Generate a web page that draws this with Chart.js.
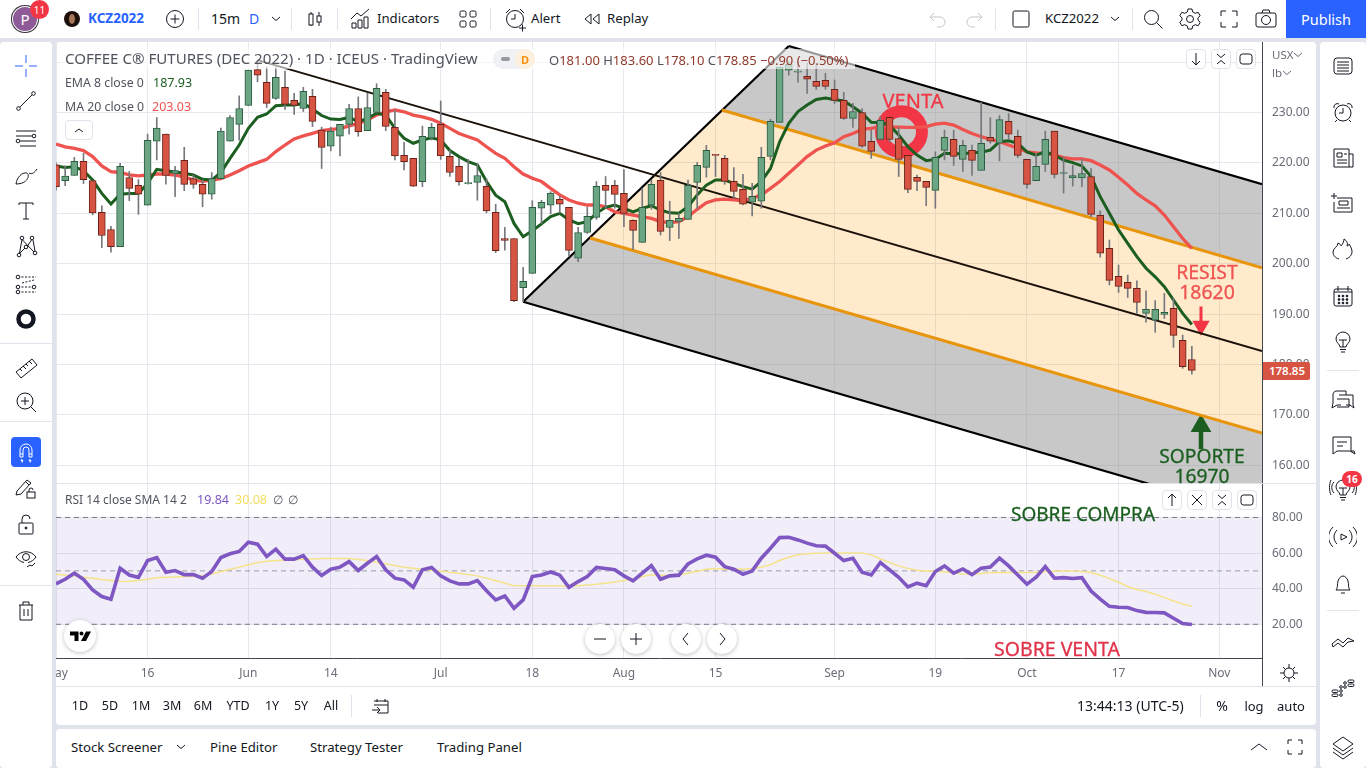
<!DOCTYPE html>
<html>
<head>
<meta charset="utf-8">
<title>KCZ2022</title>
<script src="https://cdn.jsdelivr.net/npm/chart.js@4/dist/chart.umd.min.js"></script>
<style>
  html, body { margin: 0; padding: 0; width: 1366px; height: 768px; overflow: hidden; background: #e0e3eb; font-family: "Noto Sans", sans-serif; color: #131722; }
  .panel { position: absolute; background: #fff; border-radius: 4px; }
  canvas { position: absolute; left: 56px; display: block; }
  .t { position: absolute; white-space: nowrap; transform: translateY(-50%); line-height: 1; }
  .c { transform: translate(-50%, -50%); }
  .ln { position: absolute; background: #e0e3eb; }
  svg.i { position: absolute; fill: none; stroke: currentColor; stroke-width: 1; }
  .btn { position: absolute; box-sizing: border-box; border: 1px solid #e0e3eb; border-radius: 4px; background: rgba(255,255,255,.9); }
  .round { position: absolute; width: 30px; height: 30px; border-radius: 50%; background: #fff; box-shadow: 0 1px 4px rgba(0,0,0,.25); }
</style>
</head>
<body>
<div class="panel" style="left:0;top:0;width:1366px;height:38px;border-radius:0"></div>
<div class="panel" style="left:0;top:42px;width:52px;height:726px"></div>
<div class="panel" style="left:56px;top:42px;width:1260px;height:683px"></div>
<div class="panel" style="left:56px;top:729px;width:1260px;height:39px"></div>
<div class="panel" style="left:1320px;top:42px;width:46px;height:726px"></div>
<canvas id="priceChart" width="1260" height="442" style="top:42px"></canvas>
<canvas id="rsiChart" width="1260" height="202" style="top:484px"></canvas>
<div id="ui"></div>
<script>
// last 125 daily bars of KCZ2022
const opens = [219.6,216.5,217.5,220.3,216.5,210.2,206.8,203.4,217.1,215.55,211.6,224.3,225.7,217.9,220.5,216.9,215.75,213.8,216.9,224.3,227.65,231.4,238.5,236.0,232.8,235.0,232.4,230.8,233.2,226.5,223.3,225.3,227.65,
  230.8,226.4,230.0,234.0,227.05,221.5,220.9,216.3,224.9,227.65,221.3,219.3,215.9,216.15,215.35,210.2,205.0,205.0,195.25,198.1,211.0,211.6,212.8,211.2,201.1,206.2,209.2,215.55,215.55,213.95,208.6,204.25,
  211.6,216.55,207.2,208.4,208.8,216.15,219.1,221.7,220.9,216.35,214.75,212.2,212.4,221.3,228.05,238.4,238.0,237.2,236.2,236.4,234.6,232.4,228.85,230.0,224.3,224.65,229.05,224.85,221.5,217.15,216.35,214.55,
  222.5,224.7,220.7,222.5,218.5,225.1,223.9,228.25,225.3,220.7,216.5,219.7,226.3,217.9,217.0,217.0,217.3,209.6,203.05,197.5,196.3,195.1,190.15,188.8,189.95,191.15,184.8,181.0];
const highs = [220.0,219.4,221.1,221.9,216.5,211.5,207.4,219.9,218.3,216.7,225.7,229.0,225.7,219.3,223.1,217.6,216.6,218.1,226.9,229.4,233.3,238.4,240.4,239.0,239.0,238.2,233.8,235.0,234.6,227.1,227.1,227.65,231.6,
  233.1,233.8,235.7,234.6,230.5,224.1,220.9,227.3,227.85,232.3,222.6,220.9,220.7,219.9,216.9,211.8,207.2,205.0,199.3,212.5,212.6,214.3,213.4,211.2,207.2,211.2,216.3,217.3,216.55,218.7,208.7,215.0,
  216.6,218.1,212.4,210.0,216.6,220.1,223.5,221.7,221.5,219.1,217.75,215.95,223.1,228.65,239.0,240.15,240.15,239.75,239.75,237.8,236.45,234.0,231.8,230.8,226.5,229.2,229.05,227.05,221.5,217.6,216.35,222.2,
  226.5,226.5,224.5,223.55,232.0,229.0,229.4,229.8,226.5,220.7,221.9,226.3,226.3,221.2,219.5,220.7,218.9,210.5,204.7,199.75,197.75,196.6,194.6,192.7,194.1,193.15,185.85,183.6];
const lows = [214.6,215.5,217.5,215.9,209.7,203.2,202.3,203.4,212.5,209.8,211.6,220.6,215.8,213.3,214.5,214.95,211.3,212.8,216.9,224.3,224.5,231.4,236.1,231.0,232.6,230.6,229.6,230.2,227.2,218.9,222.4,221.4,225.7,
  225.3,226.4,230.0,226.4,220.6,218.6,215.3,215.3,224.55,220.7,217.3,215.6,215.8,212.6,210.1,202.2,202.7,192.45,192.45,198.1,208.0,209.9,210.1,201.5,200.4,206.0,208.8,211.0,211.0,207.35,202.85,204.25,
  210.8,205.7,204.6,205.0,208.8,211.0,217.15,217.3,215.75,213.0,211.65,209.5,211.0,220.6,228.05,237.4,236.0,233.8,234.6,234.6,231.8,228.65,227.05,223.1,220.9,224.65,224.2,217.3,214.1,214.5,211.5,211.0,
  220.6,219.5,218.3,217.5,218.5,223.9,220.4,224.7,221.1,215.0,216.5,218.3,217.0,214.0,215.4,215.3,209.3,201.3,195.8,194.3,193.3,190.15,188.4,186.4,189.15,183.4,179.25,178.1];
const closes = [215.3,217.4,220.3,216.7,210.1,205.6,203.4,219.3,214.95,213.8,224.5,226.9,217.5,218.5,215.75,215.75,213.8,216.9,226.3,229.0,230.8,238.4,237.4,231.8,237.0,231.6,231.4,234.2,228.25,223.1,226.3,227.65,230.8,
  226.2,231.0,234.8,227.25,221.4,220.25,215.4,225.3,227.05,221.4,218.1,216.3,216.1,217.5,210.5,202.6,204.6,192.65,196.5,211.2,212.2,214.0,211.8,202.65,206.2,209.4,215.35,214.55,213.75,210.0,206.6,211.2,
  215.75,206.4,208.6,209.0,215.55,219.5,222.5,221.5,216.35,214.35,211.8,213.35,221.1,228.25,239.0,239.55,238.2,236.6,235.2,235.2,232.4,228.85,230.2,223.3,222.3,228.45,224.65,220.7,214.75,216.35,215.15,221.1,
  225.1,221.3,223.5,220.5,223.9,224.3,228.6,225.7,221.5,215.75,219.3,224.7,217.7,218.1,217.5,217.9,209.8,202.1,196.7,195.5,195.1,192.3,190.95,190.95,190.35,185.8,179.6,178.85];
const ema8 = [219.4,219.1,219.25,218.45,216.6,213.95,211.85,213.8,213.95,213.95,215.95,218.7,218.45,218.2,217.95,217.6,216.75,216.6,218.1,220.9,223.55,226.85,229.05,229.7,231.35,231.5,231.5,231.8,230.7,229.4,228.7,228.6,229.05,
  228.2,228.85,229.85,229.5,226.85,224.9,223.9,224.55,225.0,224.55,222.45,221.25,220.25,219.6,216.3,213.6,212.3,208.0,205.35,206.55,207.9,209.35,210.0,208.7,207.95,208.35,210.0,211.2,211.65,211.0,210.3,211.0,
  211.5,210.65,210.1,210.0,211.3,213.65,215.6,216.6,216.6,215.95,215.3,214.8,216.3,218.9,224.2,227.85,230.2,231.5,232.6,232.9,232.6,232.3,231.15,229.85,228.05,228.0,227.5,225.55,223.2,221.55,220.45,220.7,
  221.9,221.8,221.8,222.0,222.1,222.55,224.2,224.4,223.9,222.2,221.55,222.2,221.55,220.55,220.05,219.4,217.3,213.3,210.0,206.7,204.05,201.4,199.1,197.4,195.45,192.8,190.15,187.93];
const ma20 = [223.75,223.2,222.9,222.45,221.25,219.4,218.25,218.1,217.65,217.45,217.6,217.8,217.8,217.6,217.25,216.6,216.35,216.6,216.9,217.6,218.45,219.4,220.05,220.7,222.25,223.55,224.75,225.35,225.85,226.4,226.65,226.8,227.35,
  227.85,228.5,229.5,230.15,230.5,230.15,229.5,229.15,228.65,227.85,226.85,225.85,225.2,224.55,223.2,221.9,220.9,219.25,217.8,216.95,216.3,214.95,213.65,212.65,212.0,211.65,211.65,211.3,210.3,210.0,209.65,209.3,
  209.0,208.35,208.15,208.35,209.35,210.8,212.1,212.65,212.8,212.65,212.5,213.0,213.65,214.95,216.3,217.95,219.6,221.25,222.55,223.35,224.0,225.2,225.85,226.65,226.85,227.2,227.1,227.1,227.05,227.05,227.2,227.7,
  227.9,227.5,226.65,225.85,225.2,224.7,224.2,223.55,222.9,222.2,222.0,221.9,221.55,221.05,220.8,220.8,220.45,219.6,218.6,217.15,215.6,213.95,212.65,211.5,209.65,207.35,205.0,203.03];
const rsi14 = [42.7,45.3,48.7,45.3,39.3,35.6,34.1,51.5,47.7,46.4,55.8,57.5,49.2,50.2,47.9,47.9,45.9,49.6,57.5,59.6,60.9,66.1,65.0,58.1,62.2,56.6,56.6,58.6,52.1,47.4,50.9,52.1,55.2,
  50.2,54.3,58.1,50.6,45.9,44.9,40.8,50.6,51.9,47.2,44.4,42.7,42.7,44.6,38.9,33.7,35.9,29.0,33.7,46.8,47.7,49.4,47.6,40.8,44.0,46.8,51.9,51.3,50.6,47.2,44.4,48.7,
  53.0,45.3,47.2,47.6,53.9,56.7,58.8,57.7,52.4,50.9,48.1,50.0,57.1,62.7,68.7,68.9,67.4,65.6,64.1,63.9,59.9,55.8,57.1,49.2,47.7,54.7,50.6,46.4,41.0,43.1,41.7,49.6,
  52.8,48.7,51.1,47.9,51.5,52.2,57.1,52.8,47.7,42.5,46.4,52.4,45.9,46.2,45.7,46.2,38.7,34.1,30.1,29.6,29.4,27.7,26.7,26.6,26.4,23.4,20.4,19.84];
const rsiSma = [48.1,47.6,47.2,46.4,45.9,45.1,44.6,44.2,44.0,44.6,45.3,46.1,46.4,46.6,46.8,47.0,47.2,48.3,49.6,50.9,52.1,53.4,54.7,55.4,55.8,56.0,56.2,56.6,56.7,56.9,56.9,56.9,56.9,
  56.4,55.8,54.9,53.9,53.0,52.1,51.5,50.9,50.4,50.0,49.2,48.7,47.9,47.2,45.9,44.6,43.1,41.7,41.6,41.7,41.7,41.7,41.6,41.2,41.6,42.1,42.5,43.1,43.8,44.6,45.5,46.8,
  47.8,47.4,47.6,47.7,48.7,49.8,50.9,51.3,50.9,51.1,50.9,51.3,52.1,53.6,55.8,57.7,59.0,59.6,59.9,60.1,60.1,60.1,60.1,60.1,59.0,56.7,54.7,52.8,51.3,50.4,50.0,50.0,
  49.4,48.9,48.3,48.1,48.5,49.1,49.1,49.1,49.1,49.1,49.2,49.6,49.8,50.0,50.0,49.6,49.1,47.6,45.7,43.6,41.2,39.5,38.4,36.9,35.0,33.1,31.4,30.08];

const xTickIdx = [0,10,21,30,42,52,62,72,85,96,106,116,127];
const xTickLabels = ['May','16','Jun','14','Jul','18','Aug','15','Sep','19','Oct','17','Nov'];
const xEnd = 131.66;

// pitchfork drawing, [bar, price]
const forkHandle = [[51,192.45],[80,243.2]];
const forkMedian = [[22,240.4],[xEnd,182.7]];
const forkUpper = [[80,243.2],[xEnd,215.8]];
const forkLower = [[51,192.45],[xEnd,149.8]];
const forkInnerUp = [[72.7,230.5],[xEnd,199.2]];
const forkInnerDown = [[58.3,205.1],[xEnd,166.4]];
const ventaRing = [[92.3,226.2]];
const resistArrow = [[125,191.5],[125,187.7]];
const soporteArrow = [[125,163.2],[125,167.8]];
const rsiLevels = [80,50,20];

const gridColor = '#e6e8ee';
const upCol = '#6ba583', downCol = '#d75442';
const isUp = closes.map((c, i) => c >= opens[i]);
const pts = arr => arr.map(p => ({ x: p[0], y: p[1] }));
const series = arr => arr.map((v, i) => ({ x: i, y: v }));

function xAxis(showLabels) {
  return {
    type: 'linear', min: 0, max: xEnd, offset: false,
    grid: { color: gridColor, offset: false, drawTicks: false },
    border: showLabels ? { color: '#434651', width: 1 } : { display: false },
    ticks: {
      display: showLabels, autoSkip: false, maxRotation: 0, padding: 8,
      color: '#6a6d78', font: { size: 12, family: 'Noto Sans' },
      callback: (v, i) => xTickLabels[i]
    },
    afterBuildTicks: s => { s.ticks = xTickIdx.map(v => ({ value: v })); },
    afterFit: s => { s.height = showLabels ? 28 : 0; s.paddingLeft = 0; s.paddingRight = 0; }
  };
}

function yAxis(min, max, step, label) {
  return {
    position: 'right', min: min, max: max,
    grid: { color: gridColor, drawTicks: false },
    border: { color: '#434651', width: 1 },
    ticks: {
      stepSize: step, includeBounds: false, padding: 10,
      color: '#6a6d78', font: { size: 12, family: 'Noto Sans' }, callback: label
    },
    afterFit: s => { s.width = 54; s.paddingTop = 0; s.paddingBottom = 0; }
  };
}

const forkFills = {
  id: 'forkFills',
  beforeDatasetsDraw(chart) {
    const { ctx, chartArea: a, scales: { x, y } } = chart;
    const poly = (list, col) => {
      ctx.beginPath();
      list.forEach((p, i) => ctx[i ? 'lineTo' : 'moveTo'](x.getPixelForValue(p[0]), y.getPixelForValue(p[1])));
      ctx.closePath();
      ctx.fillStyle = col;
      ctx.fill();
    };
    ctx.save();
    ctx.beginPath();
    ctx.rect(a.left, a.top, a.right - a.left, a.bottom - a.top);
    ctx.clip();
    poly([forkInnerUp[0], forkUpper[0], forkUpper[1], forkInnerUp[1]], 'rgba(128,128,128,.43)');
    poly([forkLower[0], forkInnerDown[0], forkInnerDown[1], forkLower[1]], 'rgba(128,128,128,.43)');
    poly([forkInnerUp[0], forkInnerUp[1], forkInnerDown[1], forkInnerDown[0]], 'rgba(255,152,0,.2)');
    ctx.restore();
  }
};

function line(data, color, width, order, extra) {
  return Object.assign({ type: 'line', data: data, borderColor: color, borderWidth: width, pointRadius: 0, tension: 0, order: order }, extra || {});
}

new Chart(document.getElementById('priceChart'), {
  type: 'bar',
  plugins: [forkFills],
  data: {
    datasets: [
      { data: opens.map((o, i) => ({ x: i, y: [o, closes[i]] })), barThickness: 7, grouped: false, borderWidth: 1, borderSkipped: false,
        backgroundColor: isUp.map(u => u ? upCol : downCol), borderColor: isUp.map(u => u ? '#2a5c40' : '#6a2218'), order: 0 },
      { data: lows.map((l, i) => ({ x: i, y: [l, highs[i]] })), barThickness: 1, grouped: false, backgroundColor: '#77787d', order: 1 },
      line(series(ema8), '#1b5e20', 3, 2),
      line(series(ma20), '#ef5350', 3.3, 3),
      line(pts(forkMedian), '#1a1208', 2, 4),
      line(pts(forkInnerUp), '#e8950c', 3, 5),
      line(pts(forkInnerDown), '#e8950c', 3, 5),
      line(pts(forkUpper), '#000', 2.2, 6),
      line(pts(forkLower), '#000', 2.2, 6),
      line(pts(forkHandle), '#000', 2.2, 6),
      line(pts(ventaRing), '#f23645', 0, 7, { showLine: false, pointRadius: 20.5, pointBorderWidth: 12, pointBorderColor: '#f23645', pointBackgroundColor: 'transparent' }),
      line(pts(resistArrow), '#f23645', 3, 7, { pointStyle: 'triangle', pointRadius: [0, 7], pointRotation: 180, pointBackgroundColor: '#f23645', pointBorderColor: '#f23645' }),
      line(pts(soporteArrow), '#1b5e20', 4.5, 7, { pointStyle: 'triangle', pointRadius: [0, 7.5], pointBackgroundColor: '#1b5e20', pointBorderColor: '#1b5e20' })
    ]
  },
  options: {
    responsive: false, animation: false, devicePixelRatio: 1,
    layout: { padding: 0, autoPadding: false },
    plugins: { legend: { display: false }, tooltip: { enabled: false } },
    scales: {
      x: xAxis(false),
      y: yAxis(156.3, 243.99, 10, v => (v >= 240 ? '' : v.toFixed(2)))
    }
  }
});

new Chart(document.getElementById('rsiChart'), {
  type: 'line',
  data: {
    datasets: [
      line(series(rsi14), '#7e57c2', 3.6, 0),
      line(series(rsiSma), '#f5e38c', 1.5, 1),
      line([{ x: 0, y: rsiLevels[1] }, { x: xEnd, y: rsiLevels[1] }], '#9a9ca6', 1, 2, { borderDash: [5, 4] }),
      line([{ x: 0, y: rsiLevels[0] }, { x: xEnd, y: rsiLevels[0] }], '#787b86', 1, 3, { borderDash: [5, 4], fill: '+1', backgroundColor: 'rgba(126,87,194,.1)' }),
      line([{ x: 0, y: rsiLevels[2] }, { x: xEnd, y: rsiLevels[2] }], '#787b86', 1, 3, { borderDash: [5, 4] })
    ]
  },
  options: {
    responsive: false, animation: false, devicePixelRatio: 1,
    layout: { padding: 0, autoPadding: false },
    plugins: { legend: { display: false }, tooltip: { enabled: false } },
    scales: {
      x: xAxis(true),
      y: yAxis(1.07, 98.8, 20, v => v.toFixed(2))
    }
  }
});

// ---- everything round the chart ----
const ui = document.getElementById('ui');
let html = '';
function t(text, x, y, size, color, extra) {
  html += `<div class="t" style="left:${x}px;top:${y}px;font-size:${size}px;color:${color || '#131722'};${extra || ''}">${text}</div>`;
}
function tc(text, x, y, size, color, extra) {
  html += `<div class="t c" style="left:${x}px;top:${y}px;font-size:${size}px;color:${color || '#131722'};${extra || ''}">${text}</div>`;
}
function ico(x, y, inner, color) {
  html += `<svg class="i" viewBox="0 0 28 28" width="28" height="28" style="left:${x - 14}px;top:${y - 14}px;color:${color || '#131722'}">${inner}</svg>`;
}
function hr(x, y, w, h, c) {
  html += `<div class="ln" style="left:${x}px;top:${y}px;width:${w}px;height:${h}px;${c ? 'background:' + c : ''}"></div>`;
}
function btn(x, y, inner, w, h) {
  w = w || 20; h = h || 20;
  html += `<div class="btn" style="left:${x - w / 2}px;top:${y - h / 2}px;width:${w}px;height:${h}px"></div>`;
  ico(x, y, inner);
}
function round(x, y, inner) {
  html += `<div class="round" style="left:${x - 15}px;top:${y - 15}px"></div>`;
  ico(x, y, inner);
}

// separators
hr(56, 483, 1260, 1); hr(56, 686, 1260, 1);
hr(1262, 658, 1, 28, '#434651');
[198, 291, 337, 490].forEach(x => hr(x, 8, 1, 22));
[995, 1132].forEach(x => hr(x, 8, 1, 22));
hr(351, 695, 1, 22); hr(1200, 695, 1, 22);
[343, 421, 585].forEach(y => hr(0, y, 52, 1));
[370, 610].forEach(y => hr(1327, y, 32, 1));

// top bar
html += '<div style="position:absolute;left:11px;top:5px;width:28px;height:28px;border-radius:50%;background:#8e5b98;box-shadow:0 0 0 1px #333 inset,0 0 0 2px #fff inset"></div>';
tc('P', 25, 19, 15, '#fff');
html += '<div style="position:absolute;left:30px;top:0;width:19px;height:19px;border-radius:50%;background:#f23645"></div>';
tc('11', 39.5, 9.5, 10, '#fff');
html += '<div style="position:absolute;left:64px;top:11px;width:16px;height:16px;border-radius:50%;background:#1c0f0c"></div>';
html += '<div style="position:absolute;left:69px;top:14px;width:6px;height:10px;border-radius:50%;background:#a8765a"></div>';
t('KCZ2022', 88, 19, 13.5, '#2962ff', 'font-weight:700');
ico(175, 19, '<circle cx="14" cy="14" r="8.5"/><path d="M14 9.5v9M9.5 14h9"/>');
t('15m', 211, 19, 14);
t('D', 249, 19, 14, '#2962ff');
const chev = '<path d="M10 12l4 3.5 4-3.5"/>';
ico(276, 19, chev);
ico(315, 19, '<path d="M10 7v14M18 7v14"/><rect x="8" y="9" width="4" height="11" fill="#fff"/><rect x="16" y="11" width="4" height="6" fill="#fff"/>');
ico(361, 19, '<path d="M5 23v-5h4v5zM11 23v-8h4v8zM17 23v-11h4v11zM4 14l6-6 4 3 8-7"/>');
t('Indicators', 377, 19, 13.2);
ico(468, 19, '<rect x="6" y="6" width="6" height="6" rx="1.5"/><rect x="16" y="6" width="6" height="6" rx="1.5"/><rect x="6" y="16" width="6" height="6" rx="1.5"/><rect x="16" y="16" width="6" height="6" rx="1.5"/>');
ico(515, 19, '<circle cx="14" cy="14" r="8.5"/><path d="M14 9v5h-4M5 8l4-4M23 8l-4-4M18 23h7M21.5 19.5v7"/>');
t('Alert', 531, 19, 13.2);
ico(592, 19, '<path d="M13 9l-6 5 6 5zM21 9l-6 5 6 5z"/>');
t('Replay', 607, 19, 13.2);
ico(937, 19, '<path d="M7 12h10a5 5 0 0 1 0 10h-3M11 8l-4 4 4 4"/>', '#c4c6cd');
ico(975, 19, '<path d="M21 12h-10a5 5 0 0 0 0 10h3M17 8l4 4-4 4"/>', '#c4c6cd');
ico(1021, 19, '<rect x="6" y="6" width="16" height="16" rx="1.5"/>');
t('KCZ2022', 1045, 19, 13.2);
ico(1115, 19, chev);
ico(1153, 19, '<circle cx="12.5" cy="12.5" r="7"/><path d="M17.5 17.5l6 6"/>');
ico(1190, 19, '<circle cx="14" cy="14" r="3.5"/><path d="M12 4h4l.7 3 2.6 1.3 2.9-1 2 3.5-2.2 2v2.4l2.2 2-2 3.5-2.9-1-2.6 1.3-.7 3h-4l-.7-3-2.6-1.3-2.9 1-2-3.5 2.2-2v-2.4l-2.2-2 2-3.5 2.9 1 2.6-1.3z"/>');
ico(1229, 19, '<path d="M6 11V6h5M17 6h5v5M22 17v5h-5M11 22H6v-5"/>');
ico(1266, 19, '<rect x="4" y="8" width="20" height="14" rx="2"/><circle cx="14" cy="15" r="4.5"/><path d="M10 8l1-3h6l1 3"/>');
html += '<div style="position:absolute;left:1286px;top:0;width:80px;height:38px;background:#2962ff"></div>';
tc('Publish', 1326, 19, 14.5, '#fff');

// left toolbar
ico(26, 66, '<path d="M14 3v8M14 17v8M3 14h8M17 14h8"/>', '#2962ff');
ico(26, 101, '<circle cx="6.5" cy="21.5" r="1.8"/><circle cx="21.5" cy="6.5" r="1.8"/><path d="M8 20L20 8"/>');
ico(26, 138, '<path d="M4 7h20M4 12h16M8 17h16M8 22h16"/><circle cx="22" cy="12" r="1.8"/><circle cx="6" cy="17" r="1.8"/>');
ico(26, 175, '<path d="M4 23c1-7 6-12 11-11 3 2 1 11-11 11zM17 12c3 2 6-1 8-4"/>');
ico(26, 210, '<path d="M7 7h14M14 7v16M11 23h6M7 7v2M21 7v2"/>');
ico(26, 246, '<circle cx="7" cy="23" r="1.8"/><circle cx="10" cy="6" r="1.8"/><circle cx="14" cy="15" r="1.8"/><circle cx="20" cy="6" r="1.8"/><circle cx="23" cy="21" r="1.8"/><path d="M7.5 21l2.5-13.5M10.5 8l11.5 12M13 16L7 22M15.5 14L19.5 8M21 8l2 11"/>');
ico(26, 283, '<path d="M6 8h18M6 18h18M6 23h18M10 14l12-3" stroke-dasharray="2 1.5"/><circle cx="6" cy="8" r="1.8" fill="#fff"/><circle cx="6" cy="18" r="1.8" fill="#fff"/><circle cx="6" cy="23" r="1.8" fill="#fff"/><circle cx="22" cy="18" r="1.8" fill="#fff"/>');
ico(26, 319, '<circle cx="14" cy="14" r="7.5" stroke-width="4.5"/>');
ico(26, 367, '<path d="M4 19L20 6l5 6L9 25z M8 16l2 2M11 13l3 3M14 11l2 2M17 8l3 3"/>');
ico(26, 402, '<circle cx="13" cy="13" r="8"/><path d="M13 9v8M9 13h8M19 19l5 5"/>');
html += '<div style="position:absolute;left:11px;top:437px;width:30px;height:30px;border-radius:4px;background:#2962ff"></div>';
ico(26, 452, '<path d="M8 19v-7a6 6 0 0 1 12 0v7h-3v-7a3 3 0 0 0-6 0v7zM8 16h3M17 16h3M10 21l-1 2 2-.5-1 2M18 21l-1 2 2-.5-1 2"/>', '#fff');
ico(26, 487, '<path d="M5 18L15 7l4 3L9 21l-5 1zM14 9l3 3"/><rect x="15" y="19" width="8" height="6"/><path d="M17 19v-2a2 2 0 0 1 4 0"/>');
ico(26, 524, '<rect x="7" y="13" width="14" height="11" rx="1"/><path d="M10 13V9a4 4 0 0 1 8 0"/><circle cx="14" cy="18" r="1" fill="#131722"/>');
ico(26, 558, '<path d="M4 13c5-7 15-7 20 0-2 3-5 5-8 5.500M4 13c2 3 5 5 8 5.500"/><circle cx="14" cy="13" r="3.500"/><path d="M15 23l3-2 2 1 3-3"/>');
ico(26, 610, '<path d="M7 9h14M11 9V6h6v3M8 9v15h12V9M12 13v7M16 13v7"/>');

// right toolbar
ico(1343, 66, '<rect x="5" y="6" width="18" height="16" rx="3"/><path d="M8 10h12M8 13h12M8 16h12M8 19h12"/>');
ico(1343, 112, '<circle cx="14" cy="15" r="8"/><path d="M14 10v5h-4M5 10a3.500 3.500 0 0 1 5-4M23 10a3.500 3.500 0 0 0-5-4M8 22l-2 2M20 22l2 2"/>');
ico(1343, 158, '<path d="M5 5h15v18H5zM20 10h4v13h-4M8 9h5v4H8zM15 10h3M8 16h10M8 19h10"/>');
ico(1343, 203, '<path d="M5 4v6M2 7h6M8 9h15v14H5V13M10 12h9v4h-9zM8 19h13"/>');
ico(1343, 249, '<path d="M10 24c-4-1-6-4-6-7 0-4 5-5 5-9 2 1 3 2 3 3 2-2 3-5 3-7 3 2 4 4 3 7 1 0 2-1 2-2 2 3 3 5 3 8 0 3-3 6-6 7"/>');
ico(1343, 296, '<rect x="5" y="7" width="18" height="17" rx="2"/><path d="M9 4v5M19 4v5M5 10h18"/><g fill="#131722"><circle cx="10" cy="14" r=".9"/><circle cx="14" cy="14" r=".9"/><circle cx="18" cy="14" r=".9"/><circle cx="10" cy="17.500" r=".9"/><circle cx="14" cy="17.500" r=".9"/><circle cx="18" cy="17.500" r=".9"/><circle cx="10" cy="21" r=".9"/><circle cx="14" cy="21" r=".9"/><circle cx="18" cy="21" r=".9"/></g>');
const bulb = '<path d="M11 19c0-3-4-4-4-8a7 7 0 0 1 14 0c0 4-4 5-4 8zM10 12h8M14 12v7M11 21.500h6M12 24h4"/>';
ico(1343, 342, bulb);
ico(1343, 400, '<path d="M10 9h14v10l1 3-4-3H17M17 9V5H8C5 5 4 7 4 9v8l-1 5 5-3h4"/><path d="M8 13h12v8H8"/>');
ico(1343, 445, '<path d="M4 6h18v14h3l1 3-5-3H8l-4 3zM8 11h10M8 15h6"/>');
ico(1343, 490, bulb + '<path d="M5 6c-3 3-3 8 0 11M23 6c3 3 3 8 0 11M2 4c-2 4-2 11 0 15M26 4c2 4 2 11 0 15"/>');
html += '<div style="position:absolute;left:1342px;top:471px;width:20px;height:16px;border-radius:8px;background:#f23645"></div>';
tc('16', 1352, 479, 10, '#fff', 'font-weight:700');
ico(1343, 537, '<path d="M12 11l6 3-6 3zM8 7c-4 4-4 10 0 14M20 7c4 4 4 10 0 14M4 4c-6 6-6 14 0 20M24 4c6 6 6 14 0 20"/>');
ico(1343, 583, '<path d="M7 21c2-2 1-5 2-9 1-3 3-5 5-5s4 2 5 5c1 4 0 7 2 9zM12 24h4"/>');
ico(1343, 640, '<path d="M3 18l6-5 5 4 5-5 6 3-6 1-5 5-5-4-5 4zM14 17"/>');
ico(1343, 686, '<g><rect x="3" y="18" width="6" height="2.500" rx="1.200"/><rect x="3" y="22" width="6" height="2.500" rx="1.200"/><circle cx="12" cy="15" r="1.300"/><circle cx="12" cy="19" r="1.300"/><circle cx="12" cy="23" r="1.300"/><circle cx="16" cy="11" r="1.300"/><circle cx="16" cy="15" r="1.300"/><rect x="19" y="8" width="6" height="2.500" rx="1.200"/><rect x="19" y="12" width="6" height="2.500" rx="1.200"/></g>');
ico(1343, 747, '<path d="M14 4l10 7-10 7-10-7zM4 15l10 7 10-7M4 19l10 7 10-7"/>');

// legend
html += '<div style="position:absolute;left:60px;top:49px;width:795px;height:20px;background:rgba(255,255,255,.6)"></div>';
t('COFFEE C® FUTURES (DEC 2022) · 1D · ICEUS · TradingView', 65, 59, 15.1, '#50535e');
html += '<div style="position:absolute;left:493px;top:49px;width:42px;height:20px;border-radius:10px;background:#f0f1f4"></div>';
html += '<div style="position:absolute;left:515px;top:49px;width:20px;height:20px;border-radius:10px;background:#fdf0dc"></div>';
html += '<div style="position:absolute;left:501px;top:57px;width:9px;height:4px;border-radius:2px;background:#9598a1"></div>';
tc('D', 525, 59, 11, '#f79009', 'font-weight:700');
const redT = 'color:#8f3a2c';
t(`O<span style="${redT}">181.00</span> H<span style="${redT}">183.60</span> L<span style="${redT}">178.10</span> C<span style="${redT}">178.85</span> <span style="${redT}">−0.90 (−0.50%)</span>`, 549, 60, 13, '#50535e');
t('EMA 8 close 0', 65, 83, 12.3, '#50535e');
t('187.93', 153, 83, 12.5, '#1b5e20');
t('MA 20 close 0', 65, 107, 12.3, '#50535e');
t('203.03', 152, 107, 12.5, '#ef5350');
btn(79, 130, '<path d="M10 16l4-3 4 3"/>', 28, 20);
btn(1196, 59, '<path d="M14 8v12M10 16l4 4 4-4"/>');
const xx = '<path d="M10 9l4 3.500 4-3.500M10 19l4-3.500 4 3.500"/>';
const sq = '<rect x="8" y="9" width="12" height="10" rx="2.500"/>';
btn(1221, 59, xx); btn(1246, 59, sq);

t('RSI 14 close SMA 14 2', 65, 500, 12, '#50535e');
t('19.84', 197, 500, 12.5, '#7e57c2');
t('30.08', 235, 500, 12.5, '#f2dd5c');
t('∅', 273, 500, 12, '#50535e');
t('∅', 288, 500, 12, '#50535e');
btn(1172, 500, '<path d="M14 20V8M10 12l4-4 4 4"/>');
btn(1197, 500, '<path d="M9 9l10 10M19 9L9 19"/>');
btn(1222, 500, xx); btn(1247, 500, sq);

// price axis extras
t('USX', 1272, 55, 11.5, '#6a6d78'); ico(1298, 55, chev, '#6a6d78');
t('lb', 1272, 73, 11.5, '#6a6d78'); ico(1287, 73, chev, '#6a6d78');
html += '<div style="position:absolute;left:1263px;top:362px;width:47px;height:18px;background:#d75442;border-radius:0 2px 2px 0"></div>';
tc('178.85', 1287, 371, 11.5, '#fff', 'font-weight:600');
ico(1289, 673, '<circle cx="14" cy="14" r="5"/><path d="M14 5v4M14 19v4M5 14h4M19 14h4M8 8l2.500 2.500M17.500 17.500L20 20M8 20l2.500-2.500M17.500 10.500L20 8"/>');

// annotations typed on the chart
const annRed = '#f23645', annGreen = '#1b5e20';
const thick = '-webkit-text-stroke:.3px currentColor';
tc('VENTA', 913, 101, 20, annRed, thick);
tc('RESIST', 1207, 272, 19.4, '#ef5350', thick);
tc('18620', 1207, 292, 19.4, '#ef5350', thick);
tc('SOPORTE', 1202, 456, 19.2, annGreen, thick);
tc('16970', 1202, 476, 19.2, annGreen, thick);
tc('SOBRE COMPRA', 1083, 514, 19, annGreen, thick);
tc('SOBRE VENTA', 1057, 649, 19.5, '#e0324a', thick);

// logo and chart nav
html += '<div class="round" style="left:64px;top:620px;width:32px;height:32px"></div>';
ico(80, 636, '<g fill="#000" stroke="none"><path d="M4 9.500h8.500v9.500h-4v-5.500h-4.500z"/><circle cx="15.500" cy="11.500" r="2"/><path d="M20 9.500h5l-5 9.500h-5z"/></g>');
round(600, 639, '<path d="M8 14h12"/>');
round(636, 639, '<path d="M14 8v12M8 14h12"/>');
round(686, 639, '<path d="M16 8l-5 6 5 6"/>');
round(722, 639, '<path d="M12 8l5 6-5 6"/>');

// time range row
[['1D', 80], ['5D', 110], ['1M', 141], ['3M', 172], ['6M', 203], ['YTD', 238], ['1Y', 272], ['5Y', 301], ['All', 331]].forEach(r => tc(r[0], r[1], 706, 12.5));
ico(381, 706, '<path d="M7 9h14v12H11M10 7v3M18 7v3M7 13h14M5 18h8M10 15l3 3-3 3"/>');
t('13:44:13 (UTC-5)', 1077, 706, 14);
tc('%', 1222, 706, 14);
tc('log', 1254, 706, 13);
tc('auto', 1291, 706, 13);

// bottom bar
t('Stock Screener', 71, 748, 13.2);
ico(181, 747, chev);
t('Pine Editor', 210, 748, 13.2);
t('Strategy Tester', 310, 748, 13.2);
t('Trading Panel', 437, 748, 13.2);
ico(1259, 747, '<path d="M6 17l8-6 8 6"/>');
ico(1295, 747, '<path d="M7 11V7h4M17 7h4v4M21 17v4h-4M11 21H7v-4"/>');

ui.innerHTML = html;
</script>
</body>
</html>
